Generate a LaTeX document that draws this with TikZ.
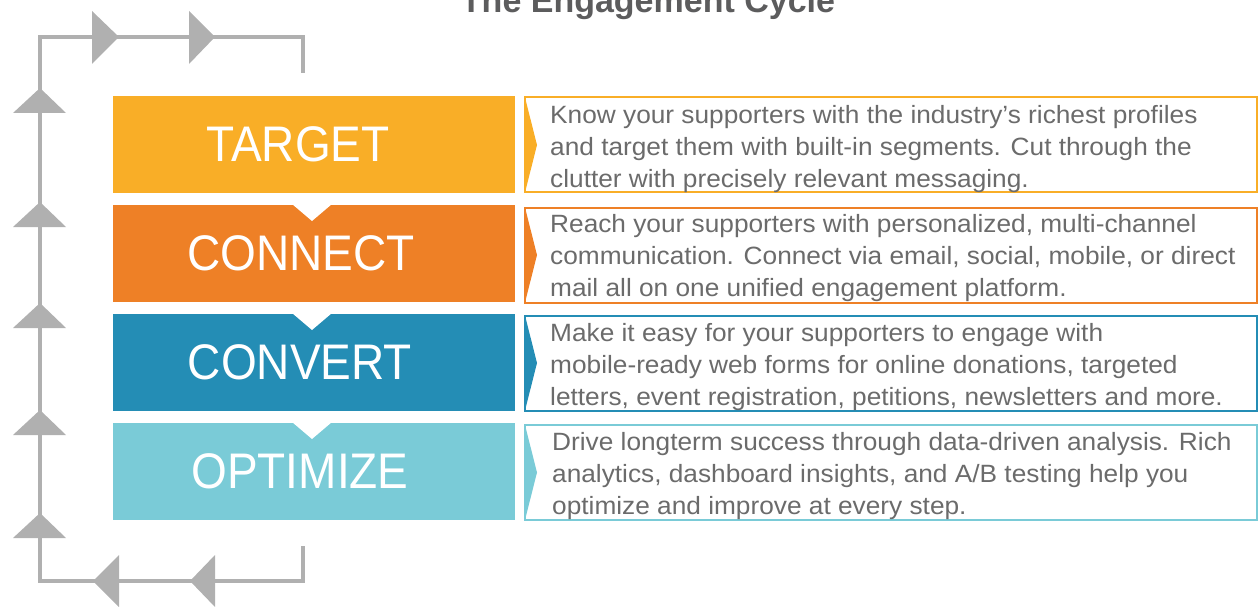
\documentclass[tikz,border=0pt]{standalone}
\usepackage{fontspec}
\setmainfont{Liberation Sans}
\newfontfamily\labelfont[FakeStretch=0.92]{Liberation Sans}
\newfontfamily\descfont[FakeStretch=1.05]{Liberation Sans}
\usetikzlibrary{calc}
\definecolor{ctarget}{HTML}{F9AE27}
\definecolor{cconnect}{HTML}{EE8026}
\definecolor{cconvert}{HTML}{248DB5}
\definecolor{coptimize}{HTML}{7ACBD7}
\definecolor{loopgray}{HTML}{B0B0B0}
\definecolor{textgray}{HTML}{6B6B6B}
\definecolor{titlegray}{HTML}{5C5C5D}
\tikzset{
  band/.style={fill=#1, draw=none, minimum width=402pt, minimum height=97pt, inner sep=0pt, outer sep=0pt},
  lbl/.style={text=white, font=\labelfont\fontsize{50}{50}\selectfont, inner sep=0pt},
  descbox/.style={draw=#1, line width=2pt, minimum width=732pt, minimum height=95pt, inner sep=0pt, outer sep=0pt},
  desc/.style={text=textgray, align=left, font=\descfont\fontsize{25}{32}\selectfont, inner sep=0pt, anchor=west},
  loopline/.style={draw=loopgray, line width=3.5pt},
  tri/.style={fill=loopgray, draw=none},
  notch/.style={fill=white, draw=none},
}
\begin{document}
\begin{tikzpicture}[x=1pt,y=-1pt]
\useasboundingbox (0,0) rectangle (1259,607);
\clip (0,0) rectangle (1259,607);

% title
\node[font=\bfseries\fontsize{34}{34}\selectfont, text=titlegray, anchor=base, inner sep=0pt] (title) at (648,13) {The Engagement Cycle};

% loop
\coordinate (ls) at (303,73);
\coordinate (ltr) at (303,37);
\coordinate (ltl) at (40,37);
\coordinate (lbl) at (40,581);
\coordinate (lbr) at (303,581);
\coordinate (le) at (303,546);
\draw[loopline] (ls) -- (ltr) -- (ltl) -- (lbl) -- (lbr) -- (le);
% top arrows (pointing right)
\foreach \bx/\ax in {92/119, 189/215}{
  \fill[tri] (\bx,11) -- (\ax,37) -- (\bx,64) -- cycle;
}
% left arrows (pointing up)
\foreach \ay in {88,202,303,410,513}{
  \fill[tri] (13,\ay+25) -- (40,\ay) -- (66,\ay+25) -- cycle;
}
% bottom arrows (pointing left)
\foreach \ax/\bx in {93/119, 190/215}{
  \fill[tri] (\bx,555) -- (\ax,581) -- (\bx,607) -- cycle;
}

% bands
\node[band=ctarget] (target) at (314,144.5) {};
\node[band=cconnect] (connect) at (314,253.5) {};
\node[band=cconvert] (convert) at (314,362.5) {};
\node[band=coptimize] (optimize) at (314,471.5) {};
\foreach \b in {connect,convert,optimize}{
  \fill[notch] ([xshift=-22pt,yshift=1pt]\b.north) -- ([xshift=18pt,yshift=1pt]\b.north) -- ([xshift=-2pt,yshift=-16pt]\b.north) -- cycle;
}
\node[lbl] (ltarget) at (298,144.5) {TARGET};
\node[lbl] (lconnect) at (301,253.5) {CONNECT};
\node[lbl] (lconvert) at (300,362.5) {CONVERT};
\node[lbl] (loptimize) at (300,471.5) {OPTIMIZE};

% description boxes
\node[descbox=ctarget] (dtarget) at (891,145) {};
\node[descbox=cconnect] (dconnect) at (891,255) {};
\node[descbox=cconvert] (dconvert) at (891,363) {};
\node[descbox=coptimize] (doptimize) at (891,472.5) {};
\foreach \d/\c in {dtarget/ctarget,dconnect/cconnect,dconvert/cconvert,doptimize/coptimize}{
  \fill[\c] (\d.north west) -- ([xshift=12pt]\d.west) -- (\d.south west) -- cycle;
}

\node[desc] (ttarget) at (550,149.5) {\strut Know your supporters with the industry’s richest profiles\\\strut and target them with built-in segments. Cut through the\\\strut clutter with precisely relevant messaging.};
\node[desc] (tconnect) at (550,258.5) {\strut Reach your supporters with personalized, multi-channel\\\strut communication. Connect via email, social, mobile, or direct\\\strut mail all on one unified engagement platform.};
\node[desc] (tconvert) at (550,367.5) {\strut Make it easy for your supporters to engage with\\\strut mobile-ready web forms for online donations, targeted\\\strut letters, event registration, petitions, newsletters and more.};
\node[desc] (toptimize) at (552,476.5) {\strut Drive longterm success through data-driven analysis. Rich\\\strut analytics, dashboard insights, and A/B testing help you\\\strut optimize and improve at every step.};
\end{tikzpicture}
\end{document}
